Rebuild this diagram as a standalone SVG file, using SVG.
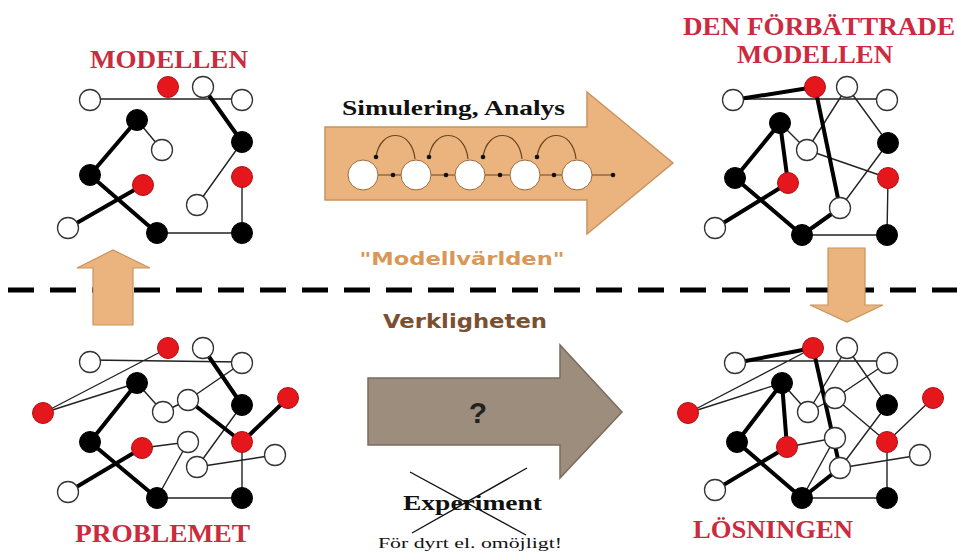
<svg xmlns="http://www.w3.org/2000/svg" width="957" height="556" viewBox="0 0 957 556">
<style>
.w{fill:#fff;stroke:#333;stroke-width:1.3}
.r{fill:#e5161c;stroke:#b01015;stroke-width:1}
.b{fill:#000;stroke:#000;stroke-width:1}
.tk{stroke:#000;stroke-width:4;fill:none;stroke-linecap:round}
.tn{stroke:#222;stroke-width:1.4;fill:none}
.title{font-family:"Liberation Serif",serif;font-weight:bold;fill:#cc2a3e;font-size:25px}
.ser{font-family:"Liberation Serif",serif;fill:#111}
.cc{fill:#fff;stroke:#9a6a3a;stroke-width:1}
.sl{stroke:#6a4520;stroke-width:1.2;fill:none}
.dot{fill:#111}
</style>
<rect width="957" height="556" fill="#fff"/>

<!-- dashed boundary -->
<line x1="8" y1="290" x2="957" y2="290" stroke="#000" stroke-width="5" stroke-dasharray="26 16"/>

<!-- big arrows -->
<g id="arrow-sim">
<polygon points="325,127 587,127 587,92 673,163 587,234 587,200 325,200" fill="#ebb47e" stroke="#c8935d" stroke-width="1.5"/>
<g id="sim-links">
<path class="sl" d="M378,175 H401 M431,175 H455 M485,175 H510 M540,175 H562 M592,175 H613"/>
<path class="sl" d="M415,159 C412,128 380,128 376,157"/>
<path class="sl" d="M468,159 C465,128 433,128 429,157"/>
<path class="sl" d="M522,159 C519,128 487,128 483,157"/>
<path class="sl" d="M576,159 C573,128 541,128 537,157"/>
<circle class="dot" cx="393" cy="175" r="2.3"/>
<circle class="dot" cx="446" cy="175" r="2.3"/>
<circle class="dot" cx="500" cy="175" r="2.3"/>
<circle class="dot" cx="554" cy="175" r="2.3"/>
<circle class="dot" cx="613" cy="175" r="2.3"/>
<circle class="dot" cx="376" cy="157" r="2.3"/>
<circle class="dot" cx="429" cy="157" r="2.3"/>
<circle class="dot" cx="483" cy="157" r="2.3"/>
<circle class="dot" cx="537" cy="157" r="2.3"/>
</g>
<g id="sim-c1"><circle class="cc" cx="363" cy="175" r="15"/></g>
<g id="sim-c2"><circle class="cc" cx="416" cy="175" r="15"/></g>
<g id="sim-c3"><circle class="cc" cx="470" cy="175" r="15"/></g>
<g id="sim-c4"><circle class="cc" cx="525" cy="175" r="15"/></g>
<g id="sim-c5"><circle class="cc" cx="577" cy="175" r="15"/></g>
<text class="ser" x="342" y="115" font-size="21" font-weight="bold" textLength="223" lengthAdjust="spacingAndGlyphs">Simulering, Analys</text>
</g>

<g id="arrow-q">
<polygon points="368,378 560,378 560,345 622,412 560,478 560,445 368,445" fill="#9d8d7d" stroke="#7b6c5e" stroke-width="1.5"/>
<text x="478" y="423" font-family="Liberation Sans, sans-serif" font-weight="bold" font-size="30" fill="#222" text-anchor="middle">?</text>
</g>

<g id="arrow-up">
<polygon points="93,325 93,268 77,268 113,250 150,268 133,268 133,325" fill="#ebb47e" stroke="#c8935d" stroke-width="1.2"/>
</g>
<g id="arrow-down">
<polygon points="828,248 865,248 865,305 883,305 847,322 810,305 828,305" fill="#ebb47e" stroke="#c8935d" stroke-width="1.2"/>
</g>

<!-- labels -->
<text x="462" y="265" font-family="DejaVu Sans, sans-serif" font-weight="bold" font-size="17" fill="#d99858" text-anchor="middle" textLength="205" lengthAdjust="spacingAndGlyphs">"Modellvärlden"</text>
<text x="465" y="328" font-family="DejaVu Sans, sans-serif" font-weight="bold" font-size="19" fill="#7a5030" text-anchor="middle" textLength="164" lengthAdjust="spacingAndGlyphs">Verkligheten</text>
<g id="experiment">
<text class="ser" x="403" y="510" font-size="22" font-weight="bold" textLength="139" lengthAdjust="spacingAndGlyphs">Experiment</text>
<line x1="410" y1="472" x2="526" y2="535" stroke="#111" stroke-width="1.4"/>
<line x1="527" y1="468" x2="412" y2="533" stroke="#111" stroke-width="1.4"/>
</g>
<text class="ser" x="378" y="548" font-size="15" textLength="184" lengthAdjust="spacingAndGlyphs">För dyrt el. omöjligt!</text>

<text class="title" x="90" y="68" textLength="158" lengthAdjust="spacingAndGlyphs">MODELLEN</text>
<text class="title" x="683" y="35" textLength="272" lengthAdjust="spacingAndGlyphs">DEN FÖRBÄTTRADE</text>
<text class="title" x="737" y="63" textLength="156" lengthAdjust="spacingAndGlyphs">MODELLEN</text>
<text class="title" x="75" y="542" textLength="175" lengthAdjust="spacingAndGlyphs">PROBLEMET</text>
<text class="title" x="693" y="538" textLength="160" lengthAdjust="spacingAndGlyphs">LÖSNINGEN</text>

<!-- connectors -->
<g id="connectors">
<!-- top-left -->
<path class="tn" d="M90,99 L242,99 M137,120 L162,150 M242,142 L197,205 M242,177 L242,233 M157,233 L242,233"/>
<path class="tk" d="M203,87 L242,142 M137,120 L90,175 M90,175 L157,233 M68,228 L143,185"/>
<!-- top-right -->
<path class="tn" d="M733,99 L887,99 M847,87 L888,143 M847,87 L807,150 M780,123 L807,150 M807,150 L888,178 M888,143 L840,208 M888,178 L887,235 M802,235 L887,235"/>
<path class="tk" d="M733,100 L815,87 M815,87 L840,208 M780,123 L735,178 M780,123 L788,183 M735,178 L802,235 M715,228 L788,183 M840,208 L802,235"/>
<!-- bottom-left -->
<path class="tn" d="M90,360 L242,362 M43,413 L168,348 M43,413 L137,383 M137,383 L163,412 M163,412 L188,400 M188,400 L242,363 M242,405 L197,467 M142,448 L188,442 M188,442 L157,498 M197,467 L275,455 M242,442 L242,498 M157,498 L242,498"/>
<path class="tk" d="M203,348 L242,405 M137,383 L90,442 M188,400 L242,442 M242,442 L288,398 M90,442 L157,498 M68,492 L142,448"/>
<!-- bottom-right -->
<path class="tn" d="M735,361 L887,361 M688,413 L813,348 M688,413 L782,383 M782,383 L808,412 M808,412 L835,398 M835,398 L887,363 M847,348 L887,405 M847,348 L808,412 M835,398 L887,442 M887,442 L933,398 M887,405 L840,468 M787,447 L835,438 M835,438 L802,498 M840,468 L920,455 M887,442 L887,498 M802,498 L887,498"/>
<path class="tk" d="M735,363 L813,348 M813,348 L840,468 M782,383 L737,442 M782,383 L787,447 M737,442 L802,498 M715,490 L787,447 M840,468 L802,498"/>
</g>

<!-- nodes: top-left -->
<g id="tl-n1"><circle class="w" cx="90" cy="100" r="10.5"/></g>
<g id="tl-n2"><circle class="r" cx="168" cy="87" r="10.5"/></g>
<g id="tl-n3"><circle class="w" cx="203" cy="87" r="10.5"/></g>
<g id="tl-n4"><circle class="w" cx="242" cy="100" r="10.5"/></g>
<g id="tl-n5"><circle class="b" cx="137" cy="120" r="10.5"/></g>
<g id="tl-n6"><circle class="w" cx="162" cy="150" r="10.5"/></g>
<g id="tl-n7"><circle class="b" cx="242" cy="142" r="10.5"/></g>
<g id="tl-n8"><circle class="b" cx="90" cy="175" r="10.5"/></g>
<g id="tl-n9"><circle class="r" cx="143" cy="185" r="10.5"/></g>
<g id="tl-n10"><circle class="r" cx="242" cy="177" r="10.5"/></g>
<g id="tl-n11"><circle class="w" cx="197" cy="205" r="10.5"/></g>
<g id="tl-n12"><circle class="w" cx="68" cy="228" r="10.5"/></g>
<g id="tl-n13"><circle class="b" cx="157" cy="233" r="10.5"/></g>
<g id="tl-n14"><circle class="b" cx="242" cy="233" r="10.5"/></g>

<!-- nodes: top-right -->
<g id="tr-n1"><circle class="w" cx="733" cy="100" r="10.5"/></g>
<g id="tr-n2"><circle class="r" cx="815" cy="87" r="10.5"/></g>
<g id="tr-n3"><circle class="w" cx="847" cy="87" r="10.5"/></g>
<g id="tr-n4"><circle class="w" cx="887" cy="100" r="10.5"/></g>
<g id="tr-n5"><circle class="b" cx="780" cy="123" r="10.5"/></g>
<g id="tr-n6"><circle class="w" cx="807" cy="150" r="10.5"/></g>
<g id="tr-n7"><circle class="b" cx="888" cy="143" r="10.5"/></g>
<g id="tr-n8"><circle class="b" cx="735" cy="178" r="10.5"/></g>
<g id="tr-n9"><circle class="r" cx="788" cy="183" r="10.5"/></g>
<g id="tr-n10"><circle class="r" cx="888" cy="178" r="10.5"/></g>
<g id="tr-n11"><circle class="w" cx="840" cy="208" r="10.5"/></g>
<g id="tr-n12"><circle class="w" cx="715" cy="228" r="10.5"/></g>
<g id="tr-n13"><circle class="b" cx="802" cy="235" r="10.5"/></g>
<g id="tr-n14"><circle class="b" cx="887" cy="235" r="10.5"/></g>

<!-- nodes: bottom-left -->
<g id="bl-n1"><circle class="w" cx="90" cy="362" r="10.5"/></g>
<g id="bl-n2"><circle class="r" cx="168" cy="348" r="10.5"/></g>
<g id="bl-n3"><circle class="w" cx="203" cy="348" r="10.5"/></g>
<g id="bl-n4"><circle class="w" cx="242" cy="363" r="10.5"/></g>
<g id="bl-n5"><circle class="r" cx="43" cy="413" r="10.5"/></g>
<g id="bl-n6"><circle class="b" cx="137" cy="383" r="10.5"/></g>
<g id="bl-n7"><circle class="w" cx="163" cy="412" r="10.5"/></g>
<g id="bl-n8"><circle class="w" cx="188" cy="400" r="10.5"/></g>
<g id="bl-n9"><circle class="b" cx="242" cy="405" r="10.5"/></g>
<g id="bl-n10"><circle class="r" cx="288" cy="398" r="10.5"/></g>
<g id="bl-n11"><circle class="b" cx="90" cy="442" r="10.5"/></g>
<g id="bl-n12"><circle class="r" cx="142" cy="448" r="10.5"/></g>
<g id="bl-n13"><circle class="w" cx="188" cy="442" r="10.5"/></g>
<g id="bl-n14"><circle class="r" cx="242" cy="442" r="10.5"/></g>
<g id="bl-n15"><circle class="w" cx="197" cy="467" r="10.5"/></g>
<g id="bl-n16"><circle class="w" cx="275" cy="455" r="10.5"/></g>
<g id="bl-n17"><circle class="w" cx="68" cy="492" r="10.5"/></g>
<g id="bl-n18"><circle class="b" cx="157" cy="498" r="10.5"/></g>
<g id="bl-n19"><circle class="b" cx="242" cy="498" r="10.5"/></g>

<!-- nodes: bottom-right -->
<g id="br-n1"><circle class="w" cx="735" cy="363" r="10.5"/></g>
<g id="br-n2"><circle class="r" cx="813" cy="348" r="10.5"/></g>
<g id="br-n3"><circle class="w" cx="847" cy="348" r="10.5"/></g>
<g id="br-n4"><circle class="w" cx="887" cy="363" r="10.5"/></g>
<g id="br-n5"><circle class="r" cx="688" cy="413" r="10.5"/></g>
<g id="br-n6"><circle class="b" cx="782" cy="383" r="10.5"/></g>
<g id="br-n7"><circle class="w" cx="808" cy="412" r="10.5"/></g>
<g id="br-n8"><circle class="w" cx="835" cy="398" r="10.5"/></g>
<g id="br-n9"><circle class="b" cx="887" cy="405" r="10.5"/></g>
<g id="br-n10"><circle class="r" cx="933" cy="398" r="10.5"/></g>
<g id="br-n11"><circle class="b" cx="737" cy="442" r="10.5"/></g>
<g id="br-n12"><circle class="r" cx="787" cy="447" r="10.5"/></g>
<g id="br-n13"><circle class="w" cx="835" cy="438" r="10.5"/></g>
<g id="br-n14"><circle class="r" cx="887" cy="442" r="10.5"/></g>
<g id="br-n15"><circle class="w" cx="840" cy="468" r="10.5"/></g>
<g id="br-n16"><circle class="w" cx="920" cy="455" r="10.5"/></g>
<g id="br-n17"><circle class="w" cx="715" cy="490" r="10.5"/></g>
<g id="br-n18"><circle class="b" cx="802" cy="498" r="10.5"/></g>
<g id="br-n19"><circle class="b" cx="887" cy="498" r="10.5"/></g>
</svg>
